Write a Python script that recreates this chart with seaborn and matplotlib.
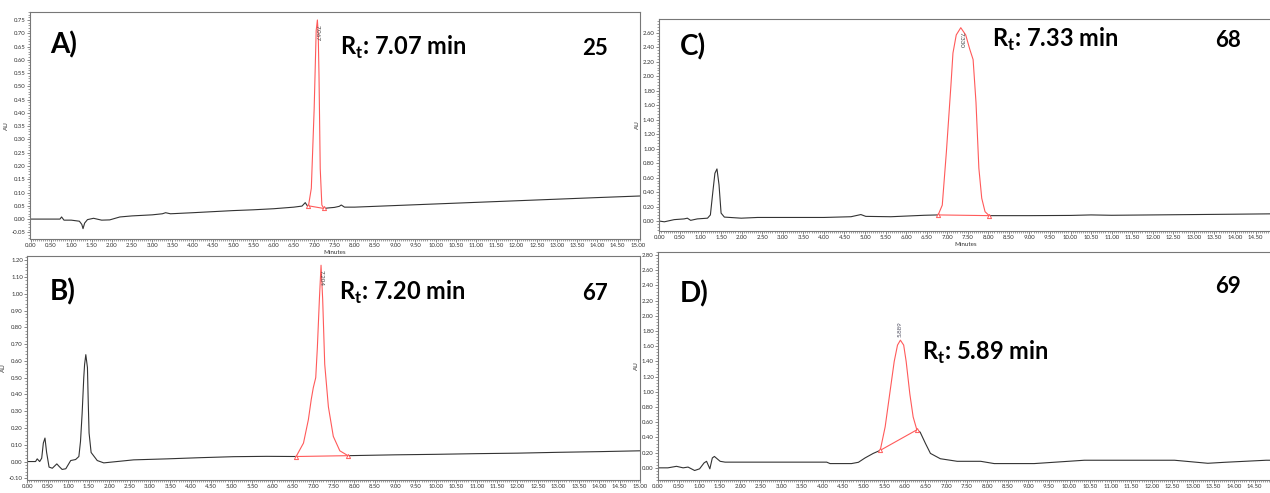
import seaborn as sns
import pandas as pd
import matplotlib.pyplot as plt
from matplotlib.ticker import MultipleLocator, FormatStrFormatter

# chromatogram traces (time in minutes, absorbance in AU)
a_time = [0.0, 0.5, 0.72, 0.76, 0.82, 1.0, 1.2, 1.26, 1.29, 1.33, 1.4, 1.55, 1.75, 1.95, 2.2, 2.5, 3.0, 3.25,
          3.33, 3.45, 4.0, 4.5, 5.0, 5.5, 6.0, 6.5, 6.7, 6.78, 6.83, 6.86, 6.93, 7.0, 7.05, 7.08, 7.1, 7.12,
          7.15, 7.19, 7.24, 7.35, 7.5, 7.62, 7.67, 7.75, 8.0, 9.0, 10.0, 11.0, 12.0, 13.0, 14.0, 15.05]
a_au = [0.0, 0.0, 0.0, 0.008, -0.004, -0.004, -0.008, -0.02, -0.036, -0.015, -0.002, 0.003, -0.004, -0.003,
        0.008, 0.012, 0.016, 0.02, 0.024, 0.02, 0.024, 0.028, 0.032, 0.035, 0.039, 0.045, 0.049, 0.062, 0.05,
        0.05, 0.116, 0.414, 0.71, 0.75, 0.7, 0.54, 0.19, 0.053, 0.04, 0.042, 0.044, 0.048, 0.053, 0.045, 0.045,
        0.051, 0.057, 0.063, 0.069, 0.075, 0.081, 0.087]

b_time = [0.0, 0.2, 0.24, 0.3, 0.35, 0.39, 0.43, 0.47, 0.53, 0.61, 0.72, 0.78, 0.85, 0.94, 1.06, 1.18, 1.26,
          1.3, 1.34, 1.38, 1.4, 1.43, 1.47, 1.49, 1.51, 1.56, 1.71, 1.87, 2.03, 2.6, 3.42, 4.23, 5.05, 5.86,
          6.58, 6.76, 6.88, 6.95, 7.0, 7.06, 7.1, 7.15, 7.19, 7.23, 7.28, 7.37, 7.49, 7.65, 7.85, 9.0, 10.0,
          11.0, 12.0, 13.0, 14.0, 15.0]
b_au = [0.0, 0.0, 0.016, 0.0, 0.02, 0.11, 0.14, 0.055, -0.033, -0.04, -0.014, -0.03, -0.047, -0.043, 0.006,
        0.012, 0.03, 0.12, 0.287, 0.5, 0.578, 0.637, 0.56, 0.35, 0.17, 0.054, 0.006, -0.008, -0.004, 0.01,
        0.016, 0.023, 0.029, 0.031, 0.03, 0.11, 0.25, 0.37, 0.44, 0.5, 0.68, 0.97, 1.17, 0.967, 0.58, 0.326,
        0.15, 0.064, 0.035, 0.04, 0.043, 0.047, 0.05, 0.055, 0.059, 0.064]

c_time = [0.0, 0.12, 0.36, 0.6, 0.68, 0.76, 0.92, 1.17, 1.24, 1.3, 1.35, 1.4, 1.45, 1.5, 1.58, 1.99, 2.39, 3.2,
          4.0, 4.66, 4.9, 5.02, 5.63, 6.44, 6.78, 6.88, 6.98, 7.09, 7.14, 7.22, 7.33, 7.45, 7.55, 7.63, 7.7,
          7.77, 7.84, 7.92, 8.02, 9.0, 10.0, 10.5, 11.0, 12.0, 13.0, 14.0, 14.9]
c_au = [0.0, -0.01, 0.02, 0.03, 0.04, 0.01, 0.03, 0.04, 0.085, 0.405, 0.66, 0.72, 0.5, 0.11, 0.055, 0.04, 0.05,
        0.05, 0.05, 0.06, 0.09, 0.065, 0.06, 0.08, 0.085, 0.22, 0.955, 1.87, 2.32, 2.57, 2.67, 2.57, 2.37, 2.23,
        1.64, 0.73, 0.315, 0.13, 0.075, 0.075, 0.078, 0.085, 0.08, 0.085, 0.09, 0.095, 0.1]

d_time = [0.0, 0.24, 0.45, 0.61, 0.73, 0.89, 1.01, 1.12, 1.18, 1.26, 1.32, 1.37, 1.51, 1.63, 2.43, 4.1, 4.18,
          4.7, 4.87, 5.03, 5.23, 5.4, 5.52, 5.64, 5.74, 5.82, 5.89, 5.97, 6.03, 6.12, 6.2, 6.29, 6.37, 6.5,
          6.62, 6.86, 7.27, 7.84, 8.17, 9.14, 10.36, 12.55, 13.36, 13.77, 14.78, 14.9]
d_au = [0.0, 0.0, 0.02, 0.0, 0.01, -0.035, -0.013, 0.065, 0.086, -0.013, 0.13, 0.15, 0.086, 0.075, 0.075,
        0.075, 0.056, 0.056, 0.073, 0.13, 0.19, 0.23, 0.54, 1.01, 1.4, 1.615, 1.68, 1.615, 1.4, 0.97, 0.67,
        0.5, 0.47, 0.32, 0.19, 0.12, 0.086, 0.086, 0.056, 0.056, 0.1, 0.1, 0.06, 0.073, 0.1, 0.1]

# integration limits and labels
peak_start = [6.86, 6.58, 6.78, 5.40]
peak_end = [7.24, 7.85, 8.02, 6.29]
peak_label = ["7.067", "7.204", "7.330", "5.889"]
panel_names = ["A)", "B)", "C)", "D)"]
rt_values = ["7.07", "7.20", "7.33", "5.89"]
compound_ids = ["25", "67", "68", "69"]

sns.set_theme(style="white", rc={"axes.edgecolor": "#777777", "axes.linewidth": 0.8})
plt.rcParams["font.family"] = ["Lato", "DejaVu Sans"]
plt.rcParams["mathtext.fontset"] = "custom"
plt.rcParams["mathtext.bf"] = "Lato:bold"
plt.rcParams["mathtext.rm"] = "Lato:bold"

W, H = 1270, 493
fig = plt.figure(figsize=(12.7, 4.93), dpi=100)


def box(left, top, right, bottom):
    return [left / W, 1 - bottom / H, (right - left) / W, (bottom - top) / H]


# axes boxes in pixels, axis limits and tick steps
boxes = [box(30, 12, 640, 239), box(27, 256, 640, 480), box(659, 19, 1272, 231), box(658, 252, 1272, 480)]
xlims = [(-0.02, 15.05), (-0.01, 15.0), (-0.01, 14.9), (0.0, 14.92)]
ylims = [(-0.075, 0.78), (-0.11, 1.225), (-0.137, 2.79), (-0.16, 2.84)]
ysteps = [0.05, 0.10, 0.20, 0.20]
yticks_lo = [-0.05, -0.10, 0.0, 0.0]

traces = [(a_time, a_au), (b_time, b_au), (c_time, c_au), (d_time, d_au)]
black = "#333333"
red = "#ff5a5a"

for i, (t, au) in enumerate(traces):
    ax = fig.add_axes(boxes[i])
    df = pd.DataFrame({"t": t, "au": au})
    s, e = peak_start[i], peak_end[i]
    pre = df[df.t <= s]
    pk = df[(df.t >= s) & (df.t <= e)]
    post = df[df.t >= e]
    for part, col in [(pre, black), (pk, red), (post, black)]:
        sns.lineplot(data=part, x="t", y="au", ax=ax, color=col, lw=0.8, sort=False, estimator=None)
    # integration baseline with start/end markers
    ends = pk.iloc[[0, -1]]
    sns.lineplot(data=ends, x="t", y="au", ax=ax, color=red, lw=0.8, sort=False, estimator=None)
    ax.plot(ends.t, ends.au, ls="none", marker="^", ms=3, mfc="white", mec=red, mew=0.7)

    # peak retention label
    apex = pk.loc[pk.au.idxmax()]
    if i == 3:
        ax.text(apex.t, apex.au + 0.04, peak_label[i], rotation=90, ha="center", va="bottom",
                fontsize=4.5, color="#556")
    else:
        ax.text(apex.t, apex.au - (ylims[i][1] - ylims[i][0]) * 0.02, peak_label[i], rotation=-90,
                ha="center", va="top", fontsize=4.5, color="#444444")

    ax.set_xlim(*xlims[i])
    ax.set_ylim(*ylims[i])
    ax.xaxis.set_major_locator(MultipleLocator(0.5))
    ax.xaxis.set_minor_locator(MultipleLocator(0.05))
    ax.xaxis.set_major_formatter(FormatStrFormatter("%.2f"))
    yt = []
    v = yticks_lo[i]
    while v <= ylims[i][1] + 1e-9:
        yt.append(round(v, 2))
        v += ysteps[i]
    ax.set_yticks(yt)
    ax.yaxis.set_minor_locator(MultipleLocator(ysteps[i] / 5))
    ax.yaxis.set_major_formatter(FormatStrFormatter("%.2f"))
    ax.tick_params(which="both", direction="out", colors="#555555", labelcolor="#333333",
                   labelsize=4.3, left=True, bottom=True, pad=1)
    ax.tick_params(which="major", length=2, width=0.5)
    ax.tick_params(which="minor", length=1.2, width=0.4)
    ax.set_ylabel("AU", fontsize=4.5, labelpad=2, color="#333333")
    if i in (0, 2):
        ax.set_xlabel("Minutes", fontsize=4.5, labelpad=1, color="#333333")
    else:
        ax.set_xlabel(None)

# panel annotations, positions in pixels
name_pos = [(50, 53), (50, 300), (680, 55), (680, 302)]
rt_pos = [(340, 55), (339, 300), (992, 47), (922, 360)]
id_pos = [(582, 55), (582, 300), (1215, 47), (1215, 293)]
for i in range(4):
    fig.text(name_pos[i][0] / W, 1 - name_pos[i][1] / H, panel_names[i], fontsize=20, fontweight="bold",
             ha="left", va="baseline", color="black")
    fig.text(rt_pos[i][0] / W, 1 - rt_pos[i][1] / H, r"R$_\mathbf{t}$: " + rt_values[i] + " min",
             fontsize=17, fontweight="bold", ha="left", va="baseline", color="black")
    fig.text(id_pos[i][0] / W, 1 - id_pos[i][1] / H, compound_ids[i], fontsize=16, fontweight="bold",
             ha="left", va="baseline", color="black")

plt.savefig("out.png", dpi=100)
